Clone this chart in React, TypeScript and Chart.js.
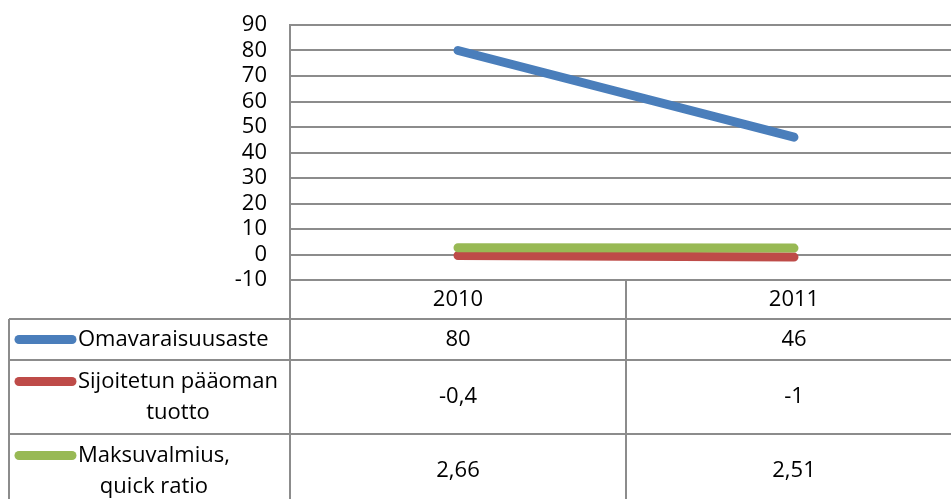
import React, { useEffect, useRef } from 'react';
import { Chart, registerables } from 'chart.js';

Chart.register(...registerables);

const categories = ['2010', '2011'];
const seriesNames = ['Omavaraisuusaste', 'Sijoitetun pääoman tuotto', 'Maksuvalmius, quick ratio'];
const seriesLabelLines = [['Omavaraisuusaste'], ['Sijoitetun pääoman', 'tuotto'], ['Maksuvalmius,', 'quick ratio']];
const omavaraisuusaste = [80, 46];
const sijoitetunPaaomanTuotto = [-0.4, -1];
const maksuvalmius = [2.66, 2.51];
const seriesColors = ['#4A7EBB', '#BE4B48', '#98B954'];
const yMin = -10;
const yMax = 90;
const yStep = 10;

const FONT = '"Open Sans", "Liberation Sans", sans-serif';
const FONT_SIZE = 22;
const GRID = '#8C8C8C';

const fmt = (v: number) => String(v).replace('.', ',');

const tablePlugin = {
  id: 'dataTable',
  afterDraw(chart: any) {
    const ctx: CanvasRenderingContext2D = chart.ctx;
    const xs = chart.scales.x;
    const area = chart.chartArea;
    const allSeries = [omavaraisuusaste, sijoitetunPaaomanTuotto, maksuvalmius];
    const rowTops = [area.bottom, 319, 360, 434, 508];
    const tableLeft = 9;
    const right = area.right;
    const cx = categories.map((_, i) => xs.getPixelForValue(i));
    const mids: number[] = [];
    for (let i = 0; i < cx.length - 1; i++) mids.push((cx[i] + cx[i + 1]) / 2);

    ctx.save();
    ctx.strokeStyle = GRID;
    ctx.lineWidth = 2;
    ctx.beginPath();
    ctx.moveTo(area.left, rowTops[0]);
    ctx.lineTo(right, rowTops[0]);
    for (let r = 1; r < rowTops.length; r++) {
      ctx.moveTo(tableLeft, rowTops[r]);
      ctx.lineTo(right, rowTops[r]);
    }
    ctx.moveTo(area.left, area.bottom);
    ctx.lineTo(area.left, rowTops[rowTops.length - 1]);
    ctx.moveTo(tableLeft, rowTops[1]);
    ctx.lineTo(tableLeft, rowTops[rowTops.length - 1]);
    mids.forEach((m) => {
      ctx.moveTo(m, area.bottom);
      ctx.lineTo(m, rowTops[rowTops.length - 1]);
    });
    ctx.moveTo(right - 1, area.bottom);
    ctx.lineTo(right - 1, rowTops[rowTops.length - 1]);
    ctx.stroke();

    ctx.fillStyle = '#000';
    ctx.font = `${FONT_SIZE}px ${FONT}`;
    ctx.textBaseline = 'middle';
    ctx.textAlign = 'center';
    categories.forEach((c, i) => ctx.fillText(c, cx[i], (rowTops[0] + rowTops[1]) / 2));

    allSeries.forEach((vals, r) => {
      const top = rowTops[r + 1];
      const bottom = rowTops[r + 2];
      const mid = (top + bottom) / 2;
      ctx.textAlign = 'center';
      vals.forEach((v, i) => ctx.fillText(fmt(v), cx[i], mid));
      const lines = seriesLabelLines[r];
      const lineH = 31;
      const firstY = mid - ((lines.length - 1) * lineH) / 2;
      ctx.strokeStyle = seriesColors[r];
      ctx.lineWidth = 9;
      ctx.lineCap = 'round';
      ctx.beginPath();
      ctx.moveTo(19, firstY);
      ctx.lineTo(72, firstY);
      ctx.stroke();
      const textX = 78;
      ctx.textAlign = 'left';
      ctx.fillText(lines[0], textX, firstY);
      const w0 = ctx.measureText(lines[0]).width;
      ctx.textAlign = 'center';
      for (let k = 1; k < lines.length; k++) {
        ctx.fillText(lines[k], textX + w0 / 2, firstY + k * lineH);
      }
    });
    ctx.restore();
  },
};

export default function App() {
  const ref = useRef<HTMLCanvasElement>(null);
  useEffect(() => {
    document.body.style.margin = '0';
    document.body.style.overflow = 'hidden';
    const canvas = ref.current!;
    const data = [omavaraisuusaste, sijoitetunPaaomanTuotto, maksuvalmius];
    const chart = new Chart(canvas, {
      type: 'line',
      data: {
        labels: categories,
        datasets: data.map((d, i) => ({
          label: seriesNames[i],
          data: d,
          borderColor: seriesColors[i],
          backgroundColor: seriesColors[i],
          borderWidth: 9,
          borderCapStyle: 'round',
          pointRadius: 0,
          pointHoverRadius: 0,
          fill: false,
          tension: 0,
          order: data.length - i,
        })),
      },
      options: {
        responsive: false,
        animation: false,
        events: [],
        layout: { padding: { top: 25, bottom: 219, left: 0, right: 0 } },
        plugins: { legend: { display: false }, tooltip: { enabled: false } },
        scales: {
          x: { type: 'category', offset: true, display: false },
          y: {
            min: yMin,
            max: yMax,
            ticks: {
              stepSize: yStep,
              autoSkip: false,
              color: '#000',
              padding: 0,
              font: { family: FONT, size: FONT_SIZE },
            },
            grid: { color: GRID, lineWidth: 2, drawTicks: true, tickLength: 23, tickColor: 'rgba(0,0,0,0)' },
            border: { display: true, color: GRID, width: 2 },
            afterFit: (scale: any) => {
              scale.width = 290;
            },
          },
        },
      },
      plugins: [tablePlugin],
    } as any);
    return () => chart.destroy();
  }, []);
  return (
    <div style={{ width: 951, height: 499, overflow: 'hidden', position: 'relative' }}>
      <canvas ref={ref} width={962} height={499} style={{ display: 'block', width: 962, height: 499 }} />
    </div>
  );
}
